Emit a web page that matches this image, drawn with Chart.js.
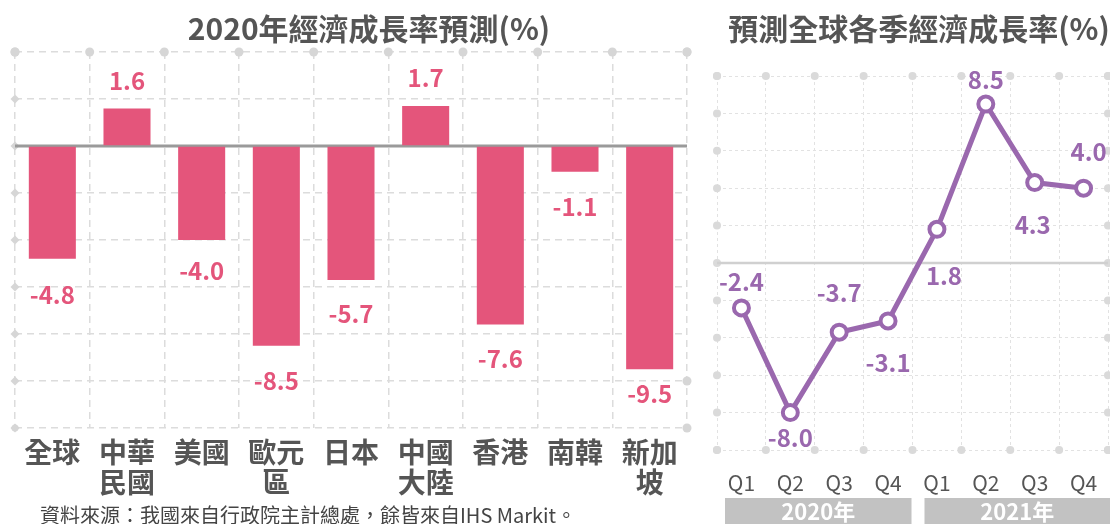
<!DOCTYPE html>
<html><head><meta charset="utf-8">
<script src="https://cdn.jsdelivr.net/npm/chart.js@4.4.1/dist/chart.umd.min.js"></script>
<style>
html,body{margin:0;padding:0;background:#fff;}
body{width:1110px;height:524px;position:relative;overflow:hidden;font-family:"Noto Sans CJK TC","Noto Sans",sans-serif;}
.title{position:absolute;top:8px;font-weight:bold;font-size:30px;color:#555;white-space:nowrap;line-height:38px;transform:translateX(-50%);}
#note{position:absolute;left:40px;top:504px;font-size:20px;line-height:22px;color:#444;white-space:nowrap;}
#w1{position:absolute;left:0;top:0;width:700px;height:524px;}
#w2{position:absolute;left:700px;top:0;width:410px;height:524px;}
</style></head>
<body>
<div id="w1"><canvas id="c1"></canvas></div>
<div id="w2"><canvas id="c2"></canvas></div>
<div class="title" style="left:369px;">2020年經濟成長率預測(%)</div>
<div class="title" style="left:919px;">預測全球各季經濟成長率(%)</div>
<div id="note">資料來源：我國來自行政院主計總處，餘皆來自IHS Markit。</div>
<script>
// ---- data ----
const regions = [['全球'], ['中華','民國'], ['美國'], ['歐元','區'], ['日本'], ['中國','大陸'], ['香港'], ['南韓'], ['新加','坡']];
const growth2020 = [-4.8, 1.6, -4.0, -8.5, -5.7, 1.7, -7.6, -1.1, -9.5];
const quarters = ['Q1','Q2','Q3','Q4','Q1','Q2','Q3','Q4'];
const years = ['2020年','2021年'];
const globalQuarterly = [-2.4, -8.0, -3.7, -3.1, 1.8, 8.5, 4.3, 4.0];

const PINK = '#E4557B';
const PURPLE = '#9A68AE';
const FONT = '"Noto Sans CJK TC","Noto Sans",sans-serif';

// label offsets (style only)
const barLabelDy = [36, -28, 31, 35, 34, -28, 34, 35, 25];
const lineLabelOff = [[0,-26],[0,25],[0,-39],[0,42],[7,47],[0,-24],[-2,42],[5,-36]];

function dotsPlugin(opts){
  return {
    id:'dots'+opts.id,
    beforeDatasetsDraw(chart){
      const {ctx, chartArea:a, scales:{x,y}} = chart;
      ctx.save();
      ctx.fillStyle = opts.color;
      const yt = y.ticks.map(t=>y.getPixelForValue(t.value));
      const n = x.ticks.length;
      const half = (x.getPixelForValue(1)-x.getPixelForValue(0))/2;
      const xs = [];
      for(let i=0;i<=n;i++) xs.push(x.getPixelForValue(0)-half+i*2*half);
      const circ=(px,py,r)=>{ctx.beginPath();ctx.arc(px,py,r,0,Math.PI*2);ctx.fill();};
      xs.forEach(px=>circ(px,a.top,opts.r));
      if(opts.bottomAll) xs.forEach(px=>circ(px,a.bottom,opts.r));
      yt.forEach(py=>{
        if(opts.diamondLeft && py>a.top+1){
          ctx.beginPath();
          ctx.moveTo(a.left-opts.d,py);ctx.lineTo(a.left,py-opts.d);ctx.lineTo(a.left+opts.d,py);ctx.lineTo(a.left,py+opts.d);ctx.closePath();ctx.fill();
          if(py>a.bottom-1) circ(a.left,py,opts.r-1);
        } else circ(a.left,py,opts.r);
        if(opts.rightAll || py<a.top+1 || Math.abs(py-yt[1])<1 || py>a.bottom-1) circ(a.right,py,opts.r);
      });
      const z = y.getPixelForValue(0);
      ctx.strokeStyle = opts.zeroColor; ctx.lineWidth = opts.zeroWidth;
      ctx.beginPath(); ctx.moveTo(a.left, z); ctx.lineTo(a.right, z); ctx.stroke();
      ctx.restore();
    }
  };
}

const barLabels = {
  id:'barLabels',
  afterDatasetsDraw(chart){
    const {ctx} = chart;
    const meta = chart.getDatasetMeta(0);
    ctx.save();
    ctx.fillStyle = PINK; ctx.font = 'bold 24px '+FONT;
    ctx.textAlign='center'; ctx.textBaseline='middle';
    meta.data.forEach((el,i)=>{
      ctx.fillText(growth2020[i].toFixed(1), el.x, el.y + barLabelDy[i]);
    });
    ctx.restore();
  }
};

function fixX(h){ return function(s){ s.height=h; s.paddingLeft=0; s.paddingRight=0; }; }

new Chart(document.getElementById('c1'), {
  type:'bar',
  data:{labels:regions, datasets:[{data:growth2020, backgroundColor:PINK, barPercentage:0.63, categoryPercentage:1}]},
  options:{
    responsive:true, maintainAspectRatio:false, animation:false,
    layout:{autoPadding:false, padding:{left:15,right:13,top:52,bottom:0}},
    plugins:{legend:{display:false}, tooltip:{enabled:false}},
    scales:{
      x:{
        grid:{color:'#dcdcdc', lineWidth:1.5, drawTicks:false},
        border:{display:false, dash:[7,5]},
        ticks:{color:'#555', font:{family:FONT, size:28, weight:'bold', lineHeight:1.08}, padding:9, maxRotation:0, autoSkip:false},
        afterFit:fixX(96)
      },
      y:{
        min:-12, max:4,
        ticks:{stepSize:2, display:false},
        grid:{color:'#dcdcdc', lineWidth:1.5, drawTicks:false},
        border:{display:false, dash:[7,5]},
        afterFit(s){s.width=0;}
      }
    }
  },
  plugins:[dotsPlugin({id:1,color:'#d6d6d6',r:4.5,d:4.5,diamondLeft:true,zeroColor:'#9a9a9a',zeroWidth:3}), barLabels]
});

const lineLabels = {
  id:'lineLabels',
  afterDatasetsDraw(chart){
    const {ctx} = chart;
    const meta = chart.getDatasetMeta(0);
    ctx.save();
    ctx.fillStyle = PURPLE; ctx.font = 'bold 24px '+FONT;
    ctx.textAlign='center'; ctx.textBaseline='middle';
    meta.data.forEach((el,i)=>{
      ctx.fillText(globalQuarterly[i].toFixed(1), el.x+lineLabelOff[i][0], el.y+lineLabelOff[i][1]);
    });
    ctx.restore();
  }
};
const yearBands = {
  id:'yearBands',
  afterDraw(chart){
    const {ctx, scales:{x}} = chart;
    const half = (x.getPixelForValue(1)-x.getPixelForValue(0))/2;
    ctx.save();
    years.forEach((yr,g)=>{
      const l = x.getPixelForValue(g*4)-half+(g===0?8:12);
      const r = g===years.length-1 ? chart.width : x.getPixelForValue(g*4+3)+half-1;
      ctx.fillStyle='#c2c2c2';
      ctx.fillRect(l, 498, r-l, 30);
      ctx.fillStyle='#fff'; ctx.font='bold 22px '+FONT;
      ctx.textAlign='center'; ctx.textBaseline='middle';
      ctx.fillText(yr, (l+r)/2, 512);
    });
    ctx.restore();
  }
};

new Chart(document.getElementById('c2'), {
  type:'line',
  data:{labels:quarters, datasets:[{data:globalQuarterly, borderColor:PURPLE, borderWidth:5, pointRadius:7.5, pointBorderWidth:4, pointBackgroundColor:'#fff', pointBorderColor:PURPLE, tension:0}]},
  options:{
    responsive:true, maintainAspectRatio:false, animation:false,
    layout:{autoPadding:false, padding:{left:17,right:2,top:76,bottom:0}},
    plugins:{legend:{display:false}, tooltip:{enabled:false}},
    scales:{
      x:{
        offset:true,
        grid:{offset:true, color:'#e2e2e2', lineWidth:1, drawTicks:false},
        border:{display:false, dash:[3,3]},
        ticks:{color:'#555', font:{family:FONT, size:21}, padding:20, maxRotation:0, autoSkip:false},
        afterFit:fixX(74)
      },
      y:{
        min:-10, max:10,
        ticks:{stepSize:2, display:false},
        grid:{color:'#e2e2e2', lineWidth:1, drawTicks:false},
        border:{display:false, dash:[3,3]},
        afterFit(s){s.width=0;}
      }
    }
  },
  plugins:[dotsPlugin({id:2,color:'#dadada',r:4,d:4,diamondLeft:false,rightAll:true,bottomAll:true,zeroColor:'#d0d0d0',zeroWidth:2.5}), lineLabels, yearBands]
});
</script>
</body></html>
